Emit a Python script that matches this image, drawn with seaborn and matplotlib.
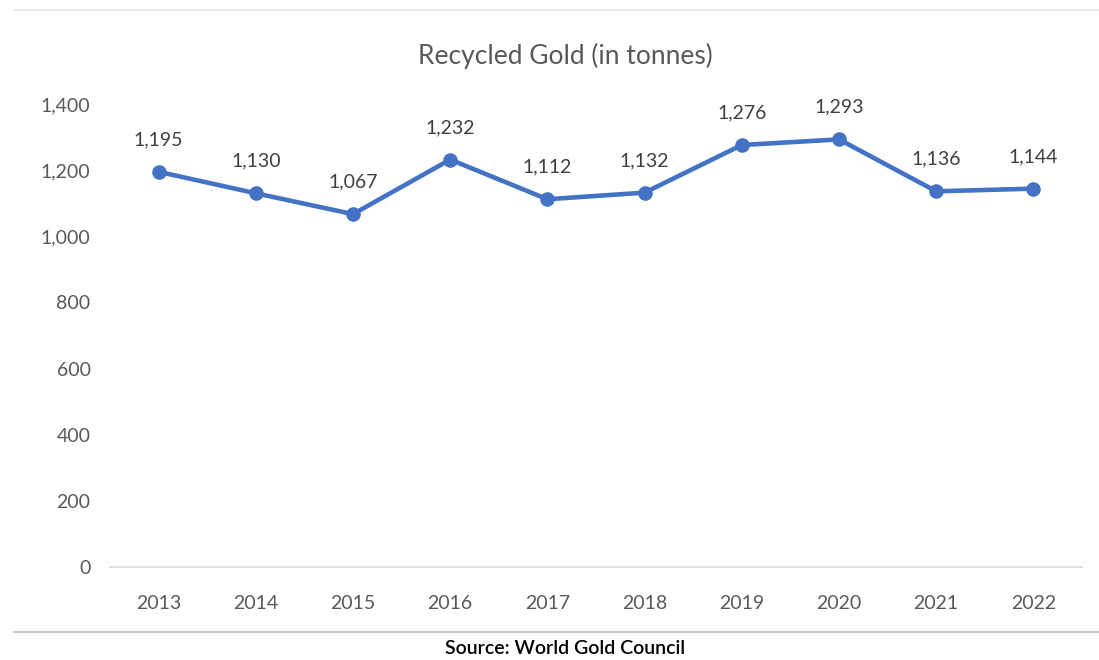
import matplotlib
matplotlib.use('Agg')
import matplotlib.pyplot as plt
import seaborn as sns
import pandas as pd
from matplotlib.ticker import FuncFormatter

sns.set_style("white")
plt.rcParams["font.family"] = ["Lato", "DejaVu Sans"]

# ==== Data ====
years = [2013, 2014, 2015, 2016, 2017, 2018, 2019, 2020, 2021, 2022]
recycled = [1195, 1130, 1067, 1232, 1112, 1132, 1276, 1293, 1136, 1144]
title = "Recycled Gold (in tonnes)"
source = "Source: World Gold Council"

df = pd.DataFrame({"year": years, "tonnes": recycled})

line_color = "#4472C4"
text_color = "#595959"

fig = plt.figure(figsize=(10.99, 6.6), dpi=100)
ax = fig.add_axes([110 / 1099, 1 - 567 / 660, 972 / 1099, 463 / 660])

sns.lineplot(data=df, x="year", y="tonnes", ax=ax, color=line_color,
             linewidth=3.3, marker="o", markersize=10.5, markeredgewidth=0)

# data labels above each point
for x, y in zip(years, recycled):
    ax.annotate(f"{y:,}", (x, y), xytext=(0, 17),
                textcoords="offset points", ha="center", va="bottom",
                fontsize=14, color="#404040")

ax.set_xlim(years[0] - 0.5, years[-1] + 0.5)
ax.set_ylim(0, 1400)
ax.set_yticks(range(0, 1401, 200))
ax.yaxis.set_major_formatter(FuncFormatter(lambda v, p: f"{int(v):,}"))
ax.set_xticks(years)
ax.set_xticklabels([str(y) for y in years])
ax.tick_params(axis="both", length=0, labelsize=14, labelcolor=text_color)
ax.tick_params(axis="x", pad=20)
ax.tick_params(axis="y", pad=14)
ax.set_xlabel("")
ax.set_ylabel("")

for side in ["top", "right", "left"]:
    ax.spines[side].set_visible(False)
ax.spines["bottom"].set_color("#D9D9D9")
ax.spines["bottom"].set_linewidth(1.2)
ax.grid(False)

fig.text(565 / 1099, 1 - 56 / 660, title, ha="center", va="center",
         fontsize=19, color=text_color)

# frame lines and source
fig.add_artist(plt.Line2D([14 / 1099, 1], [1 - 10 / 660] * 2,
                          color="#E6E6E6", linewidth=1.2))
fig.add_artist(plt.Line2D([14 / 1099, 1], [1 - 632 / 660] * 2,
                          color="#C8C8C8", linewidth=1.5))
fig.text(565 / 1099, 1 - 649 / 660, source, ha="center", va="center",
         fontsize=14, color="black", fontweight="semibold")

fig.savefig("out.png", dpi=100, facecolor="white")
plt.close(fig)
